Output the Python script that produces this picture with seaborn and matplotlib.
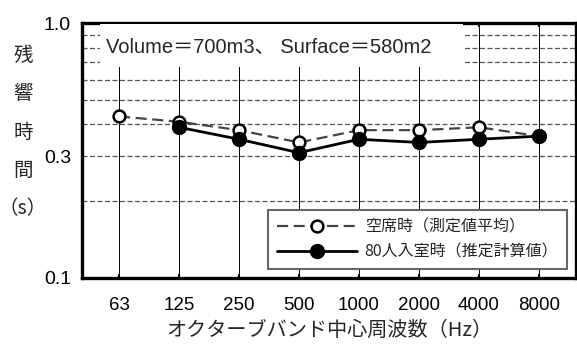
import numpy as np
import pandas as pd
import matplotlib
matplotlib.use("Agg")
import matplotlib.pyplot as plt
from matplotlib.patches import Rectangle
import seaborn as sns

# Octave band centre frequencies (Hz)
bands = ["63", "125", "250", "500", "1000", "2000", "4000", "8000"]
# Reverberation time, empty seats (measured average), s
rt_empty = [0.43, 0.41, 0.38, 0.34, 0.38, 0.38, 0.39, 0.36]
# Reverberation time, 80 people present (estimated), s
rt_occupied = [np.nan, 0.39, 0.35, 0.31, 0.35, 0.34, 0.35, 0.36]

label_empty = "空席時（測定値平均）"
label_occ = "80人入室時（推定計算値）"
room_note = "Volume＝700m3、 Surface＝580m2"
y_ticks = [0.1, 0.3, 1.0]
y_ticklabels = ["0.1", "0.3", "1.0"]
y_minor = [0.2, 0.4, 0.5, 0.6, 0.7, 0.8, 0.9]

sns.set_theme(style="white")
plt.rcParams["font.family"] = ["Liberation Sans", "Noto Sans CJK JP"]

df_empty = pd.DataFrame({"band": bands, "rt": rt_empty})
df_occ = pd.DataFrame({"band": bands, "rt": rt_occupied})

fig = plt.figure(figsize=(5.77, 3.47), dpi=100)
ax = fig.add_axes([82 / 577, 1 - 278 / 347, 494 / 577, 255 / 347])

sns.lineplot(data=df_empty, x="band", y="rt", ax=ax, sort=False,
             color="#444444", linewidth=1.6, linestyle=(0, (5, 2.5)),
             marker="o", markersize=8.5, markerfacecolor="white",
             markeredgecolor="black", markeredgewidth=1.8,
             label=label_empty, zorder=5)
sns.lineplot(data=df_occ, x="band", y="rt", ax=ax, sort=False,
             color="black", linewidth=2.0, linestyle="-",
             marker="o", markersize=10, markerfacecolor="black",
             markeredgecolor="black", markeredgewidth=1,
             label=label_occ, zorder=6)

ax.set_yscale("log")
ax.set_ylim(0.1, 1.0)
ax.set_xlim(-0.617, len(bands) - 1 + 0.617)
ax.set_yticks(y_ticks)
ax.set_yticklabels(y_ticklabels)
ax.set_yticks(y_minor, minor=True)
ax.yaxis.set_minor_formatter(plt.NullFormatter())

ax.grid(axis="y", which="both", color="#555555", linestyle=(0, (4, 2)),
        linewidth=0.9, zorder=1)
ax.grid(axis="x", which="major", color="black", linestyle="-",
        linewidth=0.7, zorder=1)

ax.tick_params(axis="y", which="both", length=0, labelsize=14, pad=8,
               colors="black")
ax.tick_params(axis="x", which="major", direction="in", length=3, width=1.5,
               top=True, bottom=True, labelsize=13.5, pad=14, colors="black")

for s in ax.spines.values():
    s.set_visible(True)
    s.set_color("black")
    s.set_linewidth(2.4)

ax.set_xlabel("オクターブバンド中心周波数（Hz）", fontsize=14.5, labelpad=4,
              family=["Noto Sans CJK JP"])
ax.set_ylabel("")

# Room description on a white panel over the grid
ax.add_patch(Rectangle((0.036, 0.827), 0.735, 0.17, transform=ax.transAxes,
                       facecolor="white", edgecolor="none", zorder=3))
ax.text(0.048, 0.905, room_note, transform=ax.transAxes, fontsize=14.5,
        va="center", ha="left", zorder=4)

# Vertical axis title, one character per line
for i, ch in enumerate(["残", "響", "時", "間", "（s）"]):
    fig.text(23 / 577, 1 - (55 + 38.5 * i) / 347, ch, fontsize=14,
             ha="center", va="center", family=["Noto Sans CJK JP"])

leg = ax.legend(loc="lower right", bbox_to_anchor=(0.982, 0.035),
                fontsize=11.5, frameon=True, fancybox=False,
                edgecolor="#666666", framealpha=1, handlelength=5,
                handletextpad=0.5, borderpad=0.55, labelspacing=0.5,
                borderaxespad=0)
leg.get_frame().set_linewidth(1.5)
leg.set_zorder(7)
for t in leg.get_texts():
    t.set_family(["Noto Sans CJK JP"])

fig.savefig("out.png", dpi=100)
